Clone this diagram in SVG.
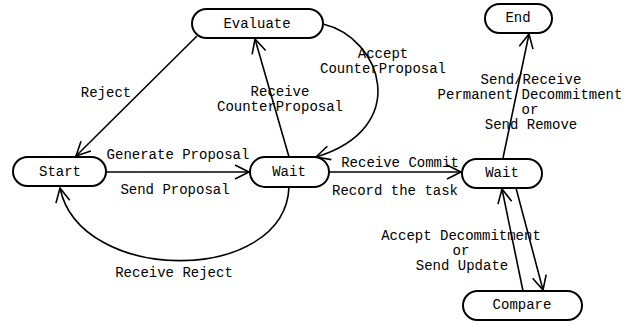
<svg xmlns="http://www.w3.org/2000/svg" width="636" height="326" viewBox="0 0 636 326">
  <style>
    .node rect { fill: #fff; stroke: #000; stroke-width: 2; }
    text { font-family: "Liberation Mono", "DejaVu Sans Mono", monospace; font-size: 14px; fill: #000; text-anchor: middle; }
    .edge { fill: none; stroke: #000; stroke-width: 1.6; marker-end: url(#arrow); }
  </style>
  <defs>
    <marker id="arrow" markerUnits="userSpaceOnUse" markerWidth="20" markerHeight="20" refX="16" refY="8" orient="auto" overflow="visible">
      <path d="M2,1 L16,8 L2,15" fill="none" stroke="#000" stroke-width="1.6"/>
    </marker>
  </defs>

  <!-- transitions -->
  <g id="connectors">
    <path class="edge" d="M197,36 L76,156"/>
    <path class="edge" d="M289,157 L255,39"/>
    <path class="edge" d="M323,24 C382,38 412,128 316,157"/>
    <path class="edge" d="M106,172 L249,172"/>
    <path class="edge" d="M289,187 C285,285 80,285 60,188"/>
    <path class="edge" d="M329,172 L461,172"/>
    <path class="edge" d="M503,158 L529,34"/>
    <path class="edge" d="M516,188 L543,290"/>
    <path class="edge" d="M523,291 L502,189"/>
  </g>

  <!-- transition labels -->
  <g id="labels">
    <text x="106" y="97">Reject</text>
    <text x="280" y="96">Receive</text>
    <text x="280" y="111">CounterProposal</text>
    <text x="383" y="58">Accept</text>
    <text x="383" y="73">CounterProposal</text>
    <text x="178" y="159">Generate Proposal</text>
    <text x="175" y="194">Send Proposal</text>
    <text x="174" y="277">Receive Reject</text>
    <text x="400" y="167">Receive Commit</text>
    <text x="395" y="195">Record the task</text>
    <text x="531" y="84">Send/Receive</text>
    <text x="530" y="99">Permanent Decommitment</text>
    <text x="530" y="114">or</text>
    <text x="531" y="129">Send Remove</text>
    <text x="461" y="240">Accept Decommitment</text>
    <text x="461" y="255">or</text>
    <text x="462" y="270">Send Update</text>
  </g>

  <!-- states -->
  <g id="evaluate" class="node">
    <rect x="192" y="9" width="131" height="29" rx="14.5"/>
    <text x="257" y="28">Evaluate</text>
  </g>
  <g id="start" class="node">
    <rect x="13" y="157" width="93" height="29" rx="14.5"/>
    <text x="60" y="176">Start</text>
  </g>
  <g id="wait-proposal" class="node">
    <rect x="250" y="157" width="79" height="30" rx="15"/>
    <text x="289" y="176">Wait</text>
  </g>
  <g id="wait-commit" class="node">
    <rect x="462" y="159" width="80" height="29" rx="14.5"/>
    <text x="502" y="177">Wait</text>
  </g>
  <g id="end" class="node">
    <rect x="485" y="4" width="67" height="29" rx="14.5"/>
    <text x="518" y="22">End</text>
  </g>
  <g id="compare" class="node">
    <rect x="463" y="291" width="119" height="29" rx="14.5"/>
    <text x="522" y="309">Compare</text>
  </g>
</svg>
